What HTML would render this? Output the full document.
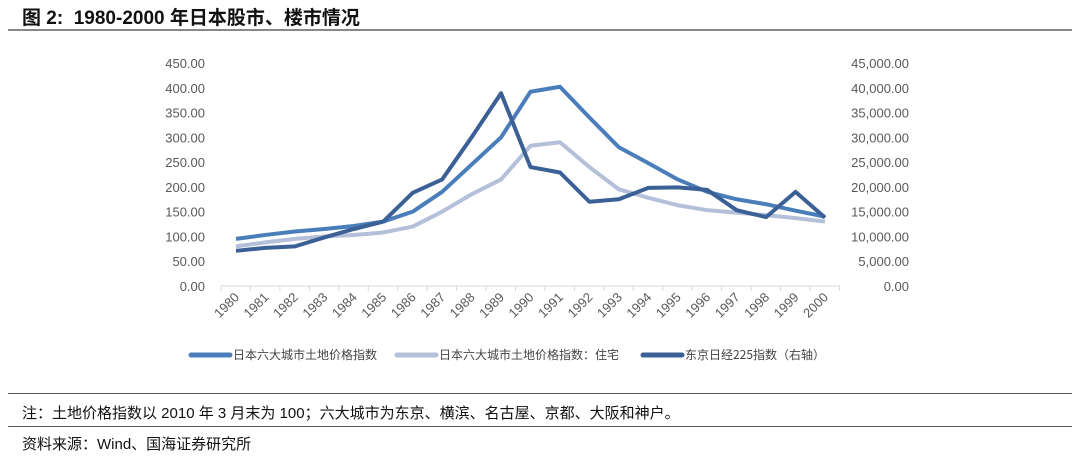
<!DOCTYPE html><html><head><meta charset="utf-8"><style>
body{margin:0;width:1080px;height:459px;background:#fff;font-family:"Liberation Sans","Noto Sans CJK SC",sans-serif;overflow:hidden;position:relative}
.t{position:absolute;left:22px;top:3px;font-size:19px;font-weight:bold;color:#111}
.hr{position:absolute;left:8px;width:1064px}
.n{position:absolute;left:22px;font-size:15px;color:#111}
</style></head><body>
<div class="t">图 2:&nbsp; 1980-2000 年日本股市、楼市情况</div>
<div class="hr" style="top:29px;border-top:2px solid #888"></div>
<svg width="1080" height="459" style="position:absolute;left:0;top:0" font-family="Liberation Sans,sans-serif">
<g font-size="13" fill="#595959" text-anchor="end" id="ly"></g>
<line x1="221" y1="286" x2="840" y2="286" stroke="#d9d9d9"/>
<g id="ticks" stroke="#d9d9d9"></g>
<g id="xl" font-size="13" fill="#595959"></g>
<polyline id="s2" fill="none" stroke="#b4bfd9" stroke-width="4" stroke-linejoin="round"/>
<polyline id="s1" fill="none" stroke="#4a7ebb" stroke-width="4" stroke-linejoin="round"/>
<polyline id="s3" fill="none" stroke="#3b6095" stroke-width="4" stroke-linejoin="round"/>
<g font-size="12" fill="#444" font-family="Noto Sans CJK SC,sans-serif">
<line x1="191" y1="355" x2="230" y2="355" stroke="#4a7ebb" stroke-width="5" stroke-linecap="round"/>
<text x="233" y="359">日本六大城市土地价格指数</text>
<line x1="397" y1="355" x2="436" y2="355" stroke="#b4bfd9" stroke-width="5" stroke-linecap="round"/>
<text x="439" y="359">日本六大城市土地价格指数：住宅</text>
<line x1="643" y1="355" x2="682" y2="355" stroke="#3b6095" stroke-width="5" stroke-linecap="round"/>
<text x="685" y="359">东京日经225指数（右轴）</text>
</g>
</svg>
<div class="hr" style="top:393px;border-top:1px solid #555"></div>
<div class="n" style="top:402px">注：土地价格指数以 2010 年 3 月末为 100；六大城市为东京、横滨、名古屋、京都、大阪和神户。</div>
<div class="hr" style="top:426px;border-top:1px solid #555"></div>
<div class="n" style="top:433px">资料来源：Wind、国海证券研究所</div>
<script>
var ns="http://www.w3.org/2000/svg";
function el(p,t,a,tx){var e=document.createElementNS(ns,t);for(var k in a)e.setAttribute(k,a[k]);if(tx)e.textContent=tx;document.getElementById(p).appendChild(e);}
function Y(v){return 286-v*0.4956}
for(var i=0;i<=9;i++){var v=i*50,y=Y(v)+5;el('ly','text',{x:205,y:y},v.toFixed(2));
el('ly','text',{x:909,y:y},(v*100).toLocaleString('en-US',{minimumFractionDigits:2}));}
function X(i){return 236+i*29.45}
for(var i=0;i<=21;i++){var x=221+i*29.45;el('ticks','line',{x1:x,y1:286,x2:x,y2:291});}
for(var i=0;i<21;i++){var x=X(i)+4,y=298;el('xl','text',{x:x,y:y,'text-anchor':'end',transform:'rotate(-45 '+x+' '+y+')'},1980+i);}
var a=[95,103,110,115,121,130,150,190,245,300,392,402,340,280,248,215,190,175,165,152,140];
var b=[80,88,95,100,103,108,120,150,185,215,283,290,240,195,178,163,153,148,143,137,130];
var c=[71,77,80,98,115,130,188,215,300,389,240,229,170,175,198,199,194,153,139,190,138];
function pts(d){return d.map(function(v,i){return X(i)+','+Y(v)}).join(' ')}
document.getElementById('s1').setAttribute('points',pts(a));
document.getElementById('s2').setAttribute('points',pts(b));
document.getElementById('s3').setAttribute('points',pts(c));
</script>
</body></html>
